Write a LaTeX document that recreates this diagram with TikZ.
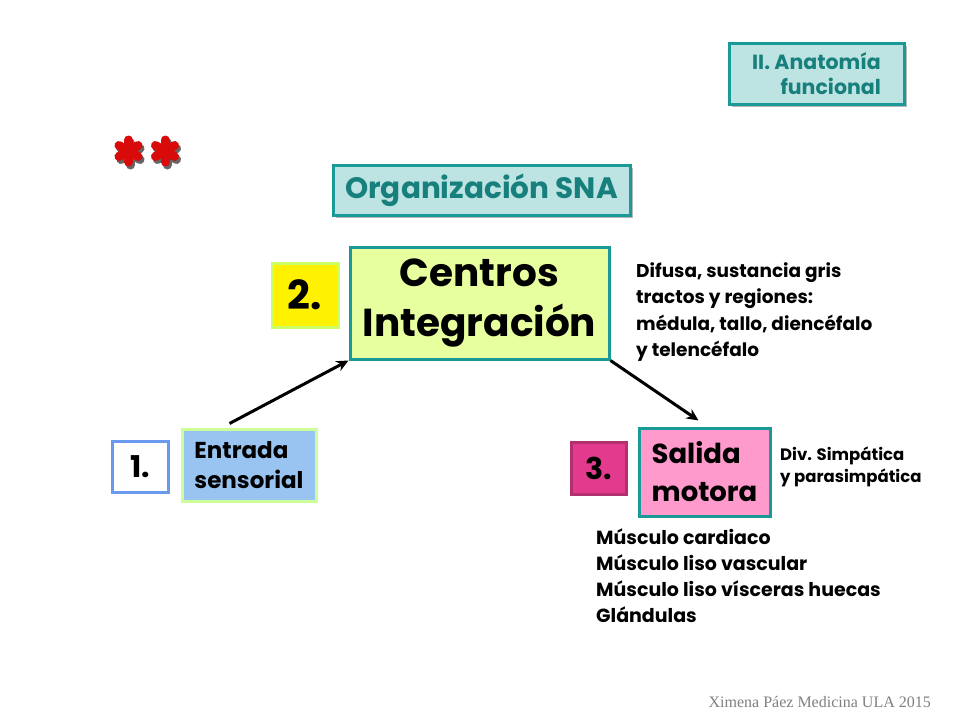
\documentclass[tikz,border=0pt]{standalone}
\usepackage{fontspec}
\setmainfont{Poppins}
\newfontfamily\footfont{Liberation Serif}
\usetikzlibrary{shadows,calc,arrows.meta}
\definecolor{tealb}{HTML}{1A9A96}
\definecolor{tealt}{HTML}{17807C}
\definecolor{cyanf}{HTML}{BDE3E3}
\definecolor{limef}{HTML}{E8FFA0}
\definecolor{bluef}{HTML}{99C3F0}
\definecolor{greenb}{HTML}{CCFF99}
\definecolor{blueb}{HTML}{6A9AEE}
\definecolor{pinkf}{HTML}{FF9ACD}
\definecolor{magf}{HTML}{E23A8C}
\definecolor{magb}{HTML}{B3306E}
\definecolor{yelb}{HTML}{CCFF66}
\definecolor{astred}{HTML}{D80A0A}
\tikzset{
  box/.style={draw, line width=3pt, inner sep=0pt, font=\bfseries},
  shbox/.style={box, draw=tealb, fill=cyanf, text=tealt,
    drop shadow={shadow xshift=3pt, shadow yshift=-3pt, fill=gray!70, opacity=0.8}},
  plain/.style={inner sep=0pt, align=left, anchor=north west, font=\bfseries},
  arr/.style={line width=3pt, -{Stealth[length=12pt,width=11pt]}},
  spoke/.style={line width=9pt, line cap=round}
}
\begin{document}
\begin{tikzpicture}[x=1pt,y=-1pt]
\useasboundingbox (0,0) rectangle (960,720);
\fill[white] (0,0) rectangle (960,720);
% header box
\node[shbox, minimum width=175pt, minimum height=61pt, align=right, font=\bfseries\fontsize{20.5}{25}\selectfont] (anat) at (816.5,73.5) {II. Anatomía\\funcional};
% asterisks
\foreach \cx in {128.5,165} {
  \begin{scope}[shift={(\cx+2,151+3)}]
    \foreach \a in {90,30,-30} \draw[spoke, black!60] (\a:11) -- (\a+180:11);
  \end{scope}
  \begin{scope}[shift={(\cx,151)}]
    \foreach \a in {90,30,-30} \draw[spoke, astred] (\a:11) -- (\a+180:11);
  \end{scope}
}
% title
\node[shbox, minimum width=297pt, minimum height=50pt, font=\bfseries\fontsize{29.5}{32}\selectfont] (org) at (481.5,190) {Organización SNA};
% centros
\node[box, draw=yelb, fill=yellow, minimum width=66pt, minimum height=64pt, font=\bfseries\fontsize{40}{44}\selectfont] (n2) at (305,295) {2.};
\node[box, draw=tealb, fill=limef, minimum width=259pt, minimum height=112pt, align=center, font=\bfseries\fontsize{39}{50}\selectfont] (centros) at (479.5,303) {Centros\\Integración};
\node[plain, font=\bfseries\fontsize{18.5}{26.5}\selectfont] (difusa) at (636,262) {Difusa, sustancia gris\\tractos y regiones:\\médula, tallo, diencéfalo\\y telencéfalo};
% entrada
\node[box, draw=blueb, fill=white, minimum width=56pt, minimum height=51pt, font=\bfseries\fontsize{30}{32}\selectfont] (n1) at (140,466.5) {1.};
\node[box, draw=greenb, fill=bluef, minimum width=134pt, minimum height=72pt, align=left, font=\bfseries\fontsize{23}{30}\selectfont] (entrada) at (249,465) {Entrada\\sensorial};
% salida
\node[box, draw=magb, fill=magf, minimum width=55pt, minimum height=52pt, font=\bfseries\fontsize{30}{32}\selectfont] (n3) at (598.5,468) {3.};
\node[box, draw=tealb, fill=pinkf, minimum width=131pt, minimum height=88pt, align=left, font=\bfseries\fontsize{27.5}{38}\selectfont] (salida) at (704.5,472) {Salida\\motora};
\node[plain, font=\bfseries\fontsize{16.5}{22}\selectfont] (div) at (780,447) {Div. Simpática\\y parasimpática};
\node[plain, font=\bfseries\fontsize{19}{26}\selectfont] (musc) at (596,529) {Músculo cardiaco\\Músculo liso vascular\\Músculo liso vísceras huecas\\Glándulas};
% arrows
\draw[arr] ($(entrada.north west)+(49,-4)$) -- (centros.south west);
\draw[arr] (centros.south east) -- ($(salida.north)+(-6,-6)$);
% footer
\node[inner sep=0pt, anchor=east, text=gray, font=\footfont\fontsize{16}{18}\selectfont] (foot) at (931,702) {Ximena Páez Medicina ULA 2015};
\end{tikzpicture}
\end{document}
